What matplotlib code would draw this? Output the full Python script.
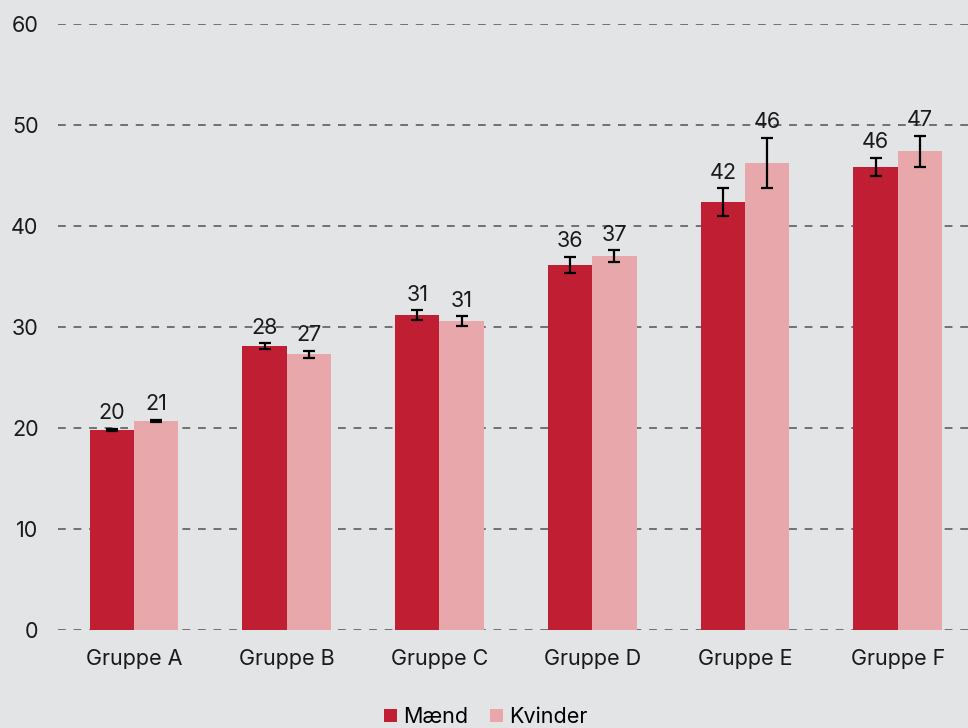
import numpy as np
import matplotlib.pyplot as plt

groups = ['Gruppe A', 'Gruppe B', 'Gruppe C', 'Gruppe D', 'Gruppe E', 'Gruppe F']
maend = [19.8, 28.1, 31.15, 36.15, 42.35, 45.85]
maend_err = [0.12, 0.3, 0.5, 0.83, 1.37, 0.89]
kvinder = [20.7, 27.3, 30.6, 37.0, 46.25, 47.4]
kvinder_err = [0.12, 0.35, 0.46, 0.61, 2.49, 1.55]

plt.rcParams['font.family'] = ['Inter', 'DejaVu Sans']

bg = '#e3e4e6'
fig = plt.figure(figsize=(9.68, 7.28), dpi=100, facecolor=bg)
ax = fig.add_axes([58 / 968, 98 / 728, 1 - 58 / 968, (630 - 24) / 728])
ax.set_facecolor(bg)

fs = 15.5
x = np.arange(len(groups))
w = 0.29
series = [(maend, maend_err, '#c01e32', 'Mænd', -w / 2),
          (kvinder, kvinder_err, '#e8a7ab', 'Kvinder', w / 2)]
for vals, errs, col, name, off in series:
    ax.bar(x + off, vals, w, color=col, label=name, zorder=2)
    ax.errorbar(x + off, vals, yerr=errs, fmt='none', ecolor='black',
                elinewidth=1.6, capsize=4.5, capthick=1.6, zorder=3)
    for xi, v, e in zip(x + off, vals, errs):
        ax.annotate(f'{v:.0f}', (xi, v + e), xytext=(0, 4), textcoords='offset points',
                    ha='center', va='bottom', fontsize=fs, color='#1a1a1a')

ax.set_ylim(0, 60)
ax.set_xlim(-0.497, 5.46)
ax.set_yticks(range(0, 61, 10))
ax.set_xticks(x)
ax.set_xticklabels(groups)
ax.tick_params(length=0, labelsize=fs, colors='#1a1a1a')
ax.tick_params(axis='y', pad=14)
ax.tick_params(axis='x', pad=14)
ax.grid(axis='y', linestyle=(0, (4, 4)), color='#707070', linewidth=1.4, zorder=1)
ax.set_axisbelow(True)
for s in ax.spines.values():
    s.set_visible(False)

ax.legend(loc='lower center', bbox_to_anchor=(0.47, -0.192), ncol=2, frameon=False,
          fontsize=fs, handlelength=0.6, handleheight=0.6, handletextpad=0.3,
          columnspacing=1.0)

fig.savefig('out.png', dpi=100, facecolor=bg)
